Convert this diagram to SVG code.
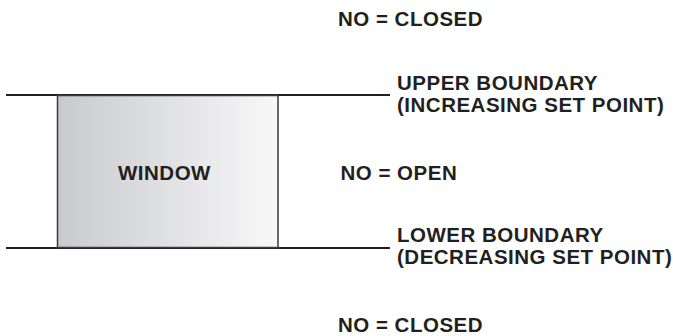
<svg xmlns="http://www.w3.org/2000/svg" width="673" height="336" viewBox="0 0 673 336">
<defs>
<linearGradient id="g" x1="0" y1="0" x2="1" y2="0">
<stop offset="0" stop-color="#c9cacd"/>
<stop offset="1" stop-color="#f8f8f9"/>
</linearGradient>
<style>
text{font-family:"Liberation Sans",Arial,sans-serif;font-weight:bold;font-size:20.5px;letter-spacing:0.5px;fill:#231f20}
.ln{stroke:#231f20;stroke-width:2.2;fill:none}
</style>
</defs>
<g id="connectors">
<line class="ln" x1="6" y1="95" x2="390" y2="95"/>
<line class="ln" x1="6" y1="248" x2="390" y2="248"/>
</g>
<g id="window">
<rect x="57.5" y="95.5" width="220.5" height="152" fill="url(#g)" stroke="#3a3a3a" stroke-width="1.5"/>
<text x="118" y="180">WINDOW</text>
</g>
<g id="labels">
<text x="338" y="25.5">NO = CLOSED</text>
<text x="397" y="89.5">UPPER BOUNDARY</text>
<text x="397" y="112">(INCREASING SET POINT)</text>
<text x="340.5" y="180">NO = OPEN</text>
<text x="397" y="241.5">LOWER BOUNDARY</text>
<text x="397" y="264">(DECREASING SET POINT)</text>
<text x="338" y="331.5">NO = CLOSED</text>
</g>
</svg>
